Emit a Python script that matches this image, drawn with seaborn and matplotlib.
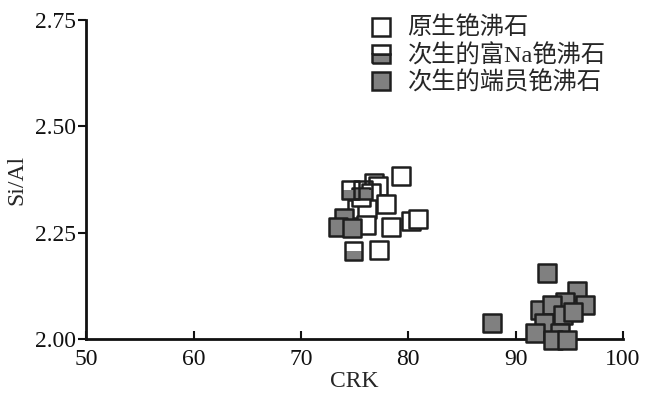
import matplotlib
matplotlib.use("Agg")
import matplotlib.pyplot as plt
from matplotlib.lines import Line2D
from matplotlib.markers import MarkerStyle
import seaborn as sns
import pandas as pd

# Data
prim_x = [79.3, 76.8, 77.2, 76.5, 77.9, 75.2, 76.2, 80.3, 80.9, 78.4, 76.1, 77.3, 75.6]
prim_y = [2.384, 2.366, 2.360, 2.343, 2.318, 2.306, 2.306, 2.277, 2.283, 2.263, 2.268, 2.209, 2.335]

na_x = [74.6, 75.8, 74.9]
na_y = [2.350, 2.350, 2.207]

end_x = [74.0, 73.5, 74.8, 92.9, 95.7, 96.5, 92.3, 94.6, 93.4, 94.4, 95.3, 92.6, 91.8, 94.1, 93.5, 94.8, 87.8]
end_y = [2.285, 2.264, 2.262, 2.155, 2.112, 2.080, 2.068, 2.087, 2.080, 2.056, 2.063, 2.038, 2.014, 2.014, 1.998, 1.998, 2.038]

labels = ["原生铯沸石", "次生的富Na铯沸石", "次生的端员铯沸石"]
xticks = [50, 60, 70, 80, 90, 100]
yticks = [2.00, 2.25, 2.50, 2.75]

sns.set_theme(style="white")
plt.rcParams['font.family'] = ['Liberation Serif', 'Noto Sans CJK SC']

GRAY = "#808080"
EDGE = "#1e1e1e"
MS = 160  # scatter marker area (pt^2)
LW = 1.8

fig = plt.figure(figsize=(6.53, 3.98), dpi=100)
ax = fig.add_axes([0.132, 0.148, 0.822, 0.802])

df_p = pd.DataFrame({"x": prim_x, "y": prim_y})
df_n = pd.DataFrame({"x": na_x, "y": na_y})
df_e = pd.DataFrame({"x": end_x, "y": end_y})

sns.scatterplot(data=df_p, x="x", y="y", ax=ax, marker="s", s=MS,
                facecolor="white", edgecolor=EDGE, linewidth=LW, clip_on=False, zorder=3)
# half-filled: gray bottom half, then outline
sns.scatterplot(data=df_n, x="x", y="y", ax=ax, marker=MarkerStyle("s", fillstyle="bottom"), s=MS,
                color=GRAY, edgecolor="none", linewidth=0, clip_on=False, zorder=4)
sns.scatterplot(data=df_n, x="x", y="y", ax=ax, marker="s", s=MS,
                facecolor="none", edgecolor=EDGE, linewidth=LW, clip_on=False, zorder=4)
sns.scatterplot(data=df_e, x="x", y="y", ax=ax, marker="s", s=MS,
                facecolor=GRAY, edgecolor=EDGE, linewidth=LW, clip_on=False, zorder=5)

ax.set_xlim(50, 100)
ax.set_ylim(2.00, 2.75)
ax.set_xticks(xticks)
ax.set_xticklabels([str(t) for t in xticks])
ax.set_yticks(yticks)
ax.set_yticklabels([f"{t:.2f}" for t in yticks])
ax.set_xlabel("CRK", fontsize=17, labelpad=1)
ax.set_ylabel("Si/Al", fontsize=17, labelpad=6)

for s in ["top", "right"]:
    ax.spines[s].set_visible(False)
for s in ["left", "bottom"]:
    ax.spines[s].set_linewidth(2.0)
    ax.spines[s].set_color("#111111")
ax.tick_params(axis="x", direction="in", length=6, width=1.5, labelsize=17, pad=7, colors="#111111")
ax.tick_params(axis="y", direction="out", length=6, width=1.5, labelsize=17, pad=1, colors="#111111")
ax.tick_params(axis="both", left=True, bottom=True)

handles = [
    Line2D([], [], linestyle="", marker="s", markersize=12.5, markerfacecolor="white",
           markeredgecolor=EDGE, markeredgewidth=LW),
    Line2D([], [], linestyle="", marker="s", markersize=12.5, markerfacecolor=GRAY,
           markerfacecoloralt="white", fillstyle="bottom",
           markeredgecolor=EDGE, markeredgewidth=LW),
    Line2D([], [], linestyle="", marker="s", markersize=12.5, markerfacecolor=GRAY,
           markeredgecolor=EDGE, markeredgewidth=LW),
]
leg = ax.legend(handles, labels, loc="upper right", bbox_to_anchor=(0.995, 1.055), frameon=False,
                prop={"family": ["Liberation Serif", "Noto Sans CJK SC"], "size": 17.5},
                handletextpad=0.6, labelspacing=0.16, borderaxespad=0.2, handlelength=1.0)

fig.savefig("out.png", dpi=100)
